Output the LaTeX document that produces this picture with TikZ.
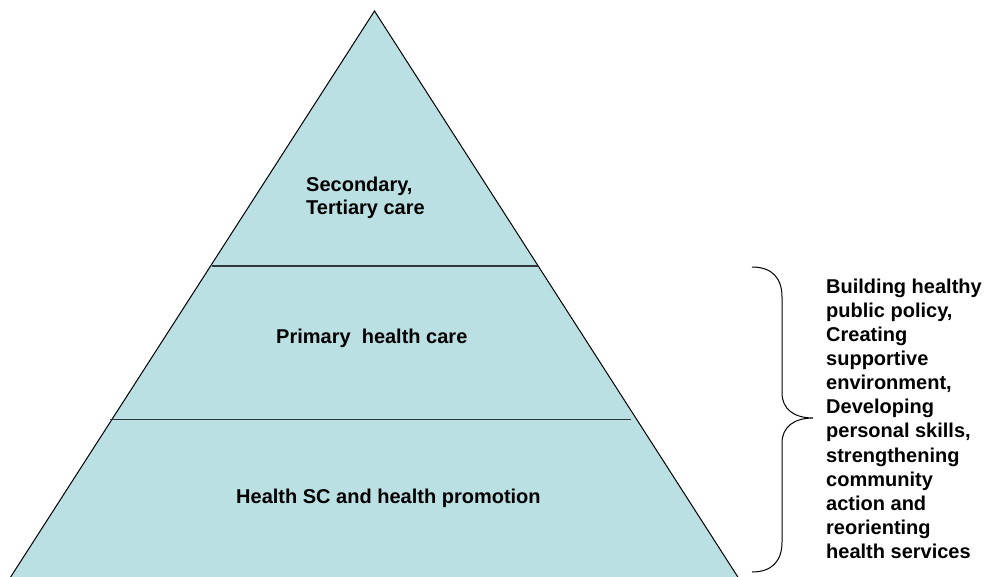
\documentclass[tikz,border=0pt]{standalone}
\usepackage{fontspec}
\setmainfont{Liberation Sans}
\definecolor{pyrfill}{RGB}{186,224,227}
\definecolor{divline}{RGB}{45,55,58}
\begin{document}
\begin{tikzpicture}[x=1bp,y=-1bp,
  lbl/.style={inner sep=0pt, anchor=base west, align=left,
    font=\fontsize{20bp}{24.15bp}\selectfont\bfseries},
  tierline/.style={draw=divline, line width=1.3bp},
  outline/.style={draw=black, line width=1bp},
  bracestyle/.style={draw=black, line width=1bp}]
\useasboundingbox (0,0) rectangle (987,577);
\clip (0,0) rectangle (987,577);
% pyramid
\coordinate (apex) at (374.5,11);
\coordinate (bl) at (10,578);
\coordinate (br) at (738.5,578);
\fill[pyrfill] (apex) -- (bl) -- (br) -- cycle;
\draw[outline] (bl) -- (apex) -- (br);
% tier dividers
\coordinate (d1l) at (212,266);
\coordinate (d1r) at (538,266);
\coordinate (d2l) at (110,419.5);
\coordinate (d2r) at (631,419.5);
\draw[tierline] (d1l) -- (d1r);
\draw[tierline] (d2l) -- (d2r);
% tier labels (base = baseline of the last line)
\node[lbl, font=\fontsize{20bp}{23bp}\selectfont\bfseries] (top) at (306,215) {Secondary,\\Tertiary care};
\node[lbl] (mid) at (276,343.5) {Primary\ \ health care};
\node[lbl] (bot) at (236,503.5) {Health SC and health promotion};
% brace
\coordinate (bt) at (752,267);
\coordinate (btip) at (813,418);
\coordinate (bb) at (752,572);
\draw[bracestyle] (bt) .. controls (772,267) and (782,278) .. (782,297)
  -- (782,393) .. controls (782,409) and (794,418) .. (btip)
  .. controls (794,418) and (782,427) .. (782,443)
  -- (782,542) .. controls (782,561) and (772,572) .. (bb);
% right text
\node[lbl] (strat) at (826,558.7) {Building healthy\\public policy,\\Creating\\supportive\\environment,\\Developing\\personal skills,\\strengthening\\community\\action and\\reorienting\\health services};
\end{tikzpicture}
\end{document}
